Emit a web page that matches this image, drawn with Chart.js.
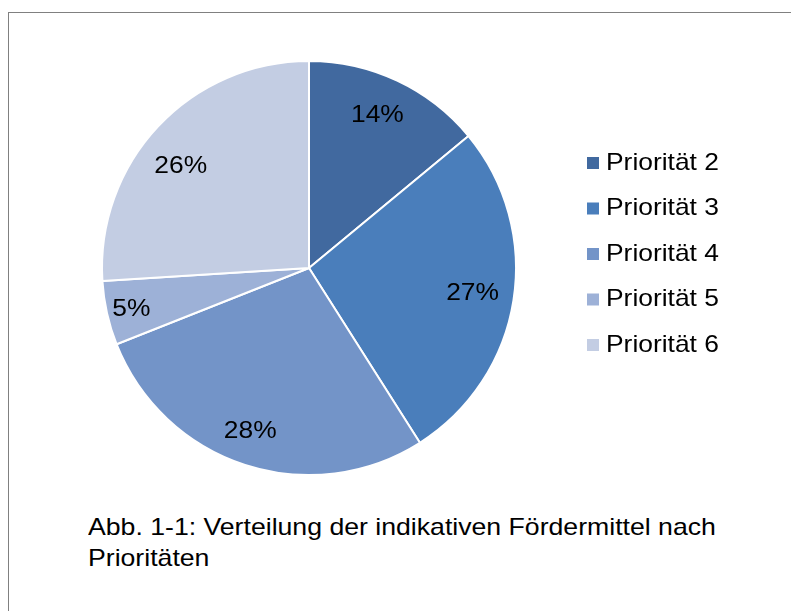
<!DOCTYPE html>
<html lang="de">
<head>
<meta charset="utf-8">
<title>Verteilung der indikativen Fördermittel nach Prioritäten</title>
<script src="https://cdn.jsdelivr.net/npm/chart.js@4/dist/chart.umd.min.js"></script>
<style>
  html, body { margin: 0; padding: 0; background: #fff; }
  body { width: 791px; height: 611px; position: relative; overflow: hidden; font-family: "Liberation Sans", Arial, sans-serif; }
  .frame { position: absolute; left: 8px; top: 12px; width: 800px; height: 620px; border-left: 1px solid #808080; border-top: 1px solid #808080; }
  .wrap { position: absolute; left: 0; top: 0; width: 791px; height: 500px; }
  .caption { position: absolute; left: 88px; top: 511px; font-size: 24px; line-height: 31px; color: #000;
             white-space: nowrap; transform: scaleX(1.11); transform-origin: left top; }
</style>
</head>
<body>
<div class="frame"></div>
<div class="wrap"><canvas id="pie"></canvas></div>
<div class="caption">Abb. 1-1: Verteilung der indikativen Fördermittel nach<br>Prioritäten</div>
<script>
const labels = ['Priorität 2', 'Priorität 3', 'Priorität 4', 'Priorität 5', 'Priorität 6'];
const shares = [14, 27, 28, 5, 26];
const colors = ['#41699f', '#4a7ebb', '#7394c8', '#9db1d7', '#c3cde3'];

const FONT = '24px "Liberation Sans", Arial, sans-serif';
const STRETCH = 1.1; // the original text is a bit wider than Liberation Sans
// small hand nudges so the % labels sit where the office chart put them
const labelNudge = [[-3, -1], [-2, -1], [-7, 4], [-14, 5], [-6, 13]];

function wideText(ctx, txt, x, y) {
  ctx.save();
  ctx.translate(x, y);
  ctx.scale(STRETCH, 1);
  ctx.fillText(txt, 0, 0);
  ctx.restore();
}

// percent labels inside the slices
const sliceLabels = {
  id: 'sliceLabels',
  afterDatasetsDraw(chart) {
    const { ctx } = chart;
    const meta = chart.getDatasetMeta(0);
    ctx.save();
    ctx.font = FONT;
    ctx.fillStyle = '#000';
    ctx.textAlign = 'center';
    ctx.textBaseline = 'middle';
    meta.data.forEach((arc, i) => {
      const { x, y, startAngle, endAngle, outerRadius } = arc.getProps(['x', 'y', 'startAngle', 'endAngle', 'outerRadius'], true);
      const mid = (startAngle + endAngle) / 2;
      const r = outerRadius * 0.81;
      wideText(ctx, shares[i] + '%', x + Math.cos(mid) * r + labelNudge[i][0], y + Math.sin(mid) * r + labelNudge[i][1]);
    });
    ctx.restore();
  }
};

// legend to the right, square markers like the office chart
const sideLegend = {
  id: 'sideLegend',
  afterDraw(chart) {
    const { ctx } = chart;
    const meta = chart.getDatasetMeta(0);
    ctx.save();
    ctx.font = FONT;
    ctx.textAlign = 'left';
    ctx.textBaseline = 'middle';
    labels.forEach((lab, i) => {
      const y = 163 + i * 45.5;
      ctx.fillStyle = meta.data[i].options.backgroundColor;
      ctx.fillRect(587, y - 6, 12, 12);
      ctx.fillStyle = '#000';
      wideText(ctx, lab, 606, y);
    });
    ctx.restore();
  }
};

new Chart(document.getElementById('pie'), {
  type: 'pie',
  data: {
    labels: labels,
    datasets: [{
      data: shares,
      backgroundColor: colors,
      borderColor: '#ffffff',
      borderWidth: 2,
    }],
  },
  options: {
    responsive: true,
    maintainAspectRatio: false,
    animation: false,
    layout: { padding: { left: 101, right: 274, top: 60, bottom: 24 } },
    plugins: {
      legend: { display: false },
      tooltip: { enabled: false },
    },
  },
  plugins: [sliceLabels, sideLegend],
});
</script>
</body>
</html>
